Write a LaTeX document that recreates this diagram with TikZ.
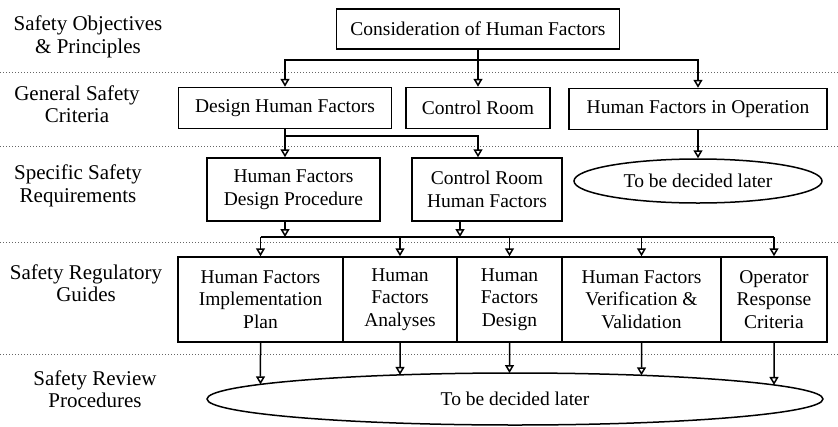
\documentclass[tikz,border=0pt]{standalone}
\usepackage{fontspec}
\setmainfont{Liberation Serif}
\usetikzlibrary{arrows.meta,shapes.geometric,intersections}
\tikzset{
box/.style={draw, line width=1.5pt, rectangle, align=center, inner sep=0pt, font=\fontsize{19.5}{22.5}\selectfont},
oval/.style={draw, line width=1.5pt, ellipse, inner sep=0pt, font=\fontsize{19.5}{22.5}\selectfont},
level/.style={align=center, inner sep=0pt, font=\fontsize{21}{22.5}\selectfont},
sep/.style={black!60, dotted, line width=1pt},
bus/.style={line width=1.5pt},
link/.style={line width=1.5pt, -{Triangle[open, length=8pt, width=9pt]}},
}

\begin{document}
\begin{tikzpicture}[x=1pt,y=1pt,yscale=-1,xscale=1]
\useasboundingbox (0,0) rectangle (838,426);

%Separators
\draw [sep] (0,72) -- (838,72) ;
\draw [sep] (0,146) -- (838,146) ;
\draw [sep] (0,242) -- (838,242) ;
\draw [sep] (0,354) -- (838,354) ;

%Levels
\node [level] (lvobj) at (88,37) {Safety Objectives\\\& Principles};
\node [level] (lvgen) at (77,104) {General Safety\\Criteria};
\node [level] (lvspec) at (78,186) {Specific Safety\\Requirements};
\node [level] (lvguide) at (86,283) {Safety Regulatory\\Guides};
\node [level] (lvrev) at (95,389) {Safety Review\\Procedures};

%Shape: Rectangle
\node [box, minimum width=283pt, minimum height=40pt] (cons) at (478,29) {Consideration of Human Factors};
%Shape: Rectangle
\node [box, minimum width=213pt, minimum height=41pt] (dhf) at (285,108) {Design Human Factors};
\node [box, minimum width=144pt, minimum height=41pt] (ctrl) at (478,108) {Control Room};
\node [box, minimum width=258pt, minimum height=41pt] (hfo) at (698,109) {Human Factors in Operation};
%Shape: Rectangle
\node [box, minimum width=173pt, minimum height=63pt] (hfdp) at (293.5,189.5) {Human Factors\\Design Procedure};
\node [box, minimum width=150pt, minimum height=63pt] (crhf) at (487,189.5) {Control Room\\Human Factors};
%Shape: Ellipse
\node [oval, minimum width=248pt, minimum height=44pt] (later1) at (698,181) {To be decided later};
%Shape: Rectangle
\node [box, minimum width=165pt, minimum height=85pt] (hfip) at (260.5,299.5) {Human Factors\\Implementation\\Plan};
\node [box, minimum width=114pt, minimum height=85pt] (hfan) at (400,299.5) {Human\\Factors\\Analyses};
\node [box, minimum width=105pt, minimum height=85pt] (hfde) at (509.5,299.5) {Human\\Factors\\Design};
\node [box, minimum width=159pt, minimum height=85pt] (hfvv) at (641.5,299.5) {Human Factors\\Verification \&\\Validation};
\node [box, minimum width=106pt, minimum height=85pt] (orc) at (774,299.5) {Operator\\Response\\Criteria};
%Shape: Ellipse
\node [oval, name path=later2, minimum width=616pt, minimum height=52pt] (later2) at (515,399) {To be decided later};

%Connectors
\coordinate (bus1) at (0,60);
\coordinate (bus2) at (0,136);
\coordinate (bus3) at (0,237);
\draw [link] (cons.south) -- (ctrl.north) ;
\draw [link] (cons.south |- bus1) -| (dhf.north) ;
\draw [link] (cons.south |- bus1) -| (hfo.north) ;
\draw [link] (dhf.south) -- (dhf.south |- hfdp.north) ;
\draw [link] (dhf.south |- bus2) -| (ctrl.south |- crhf.north) ;
\draw [link] (hfo.south) -- (later1.north) ;
\draw [link] (dhf.south |- hfdp.south) -- (dhf.south |- bus3) ;
\draw [link] ([xshift=-27pt]crhf.south) -- ([xshift=-27pt]crhf.south |- bus3) ;
\draw [bus] (hfip.north |- bus3) -- (orc.north |- bus3) ;
\foreach \b in {hfip,hfan,hfde,hfvv,orc}{
  \draw [link] (\b.north |- bus3) -- (\b.north) ;
  \path [name path=drop] (\b.south) -- ++(0,80) ;
  \draw [link, name intersections={of=drop and later2}] (\b.south) -- (intersection-1) ;
}

\end{tikzpicture}
\end{document}
